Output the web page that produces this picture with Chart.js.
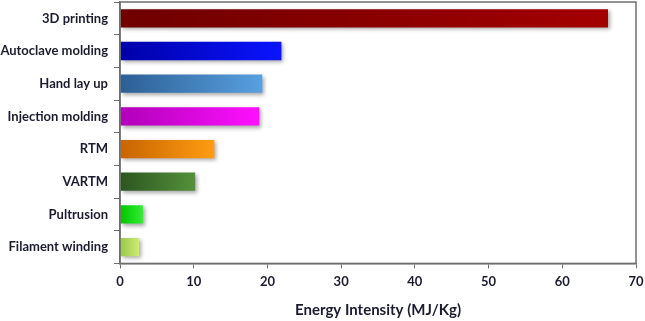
<!DOCTYPE html>
<html>
<head>
<meta charset="utf-8">
<style>
  html, body { margin: 0; padding: 0; background: #fff; }
  #wrap { width: 645px; height: 321px; }
</style>
</head>
<body>
<div id="wrap"><canvas id="chart"></canvas></div>
<script src="https://cdn.jsdelivr.net/npm/chart.js"></script>
<script>
const processes = ['3D printing', 'Autoclave molding', 'Hand lay up', 'Injection molding', 'RTM', 'VARTM', 'Pultrusion', 'Filament winding'];
const energy = [66.2, 21.9, 19.3, 18.9, 12.8, 10.2, 3.1, 2.6];
const xTicks = [0, 10, 20, 30, 40, 50, 60, 70];
const darkShades = ['#6e0000', '#0000a8', '#2c5f94', '#b000b8', '#c76400', '#2c5520', '#00c400', '#98c848'];
const lightShades = ['#a40000', '#0a14ff', '#58a0e0', '#ff10ff', '#ff9c12', '#54913a', '#30f030', '#cdeb78'];

const fontFam = 'Lato, "Open Sans", sans-serif';

const barFill = ctx => {
  const chart = ctx.chart;
  const { chartArea } = chart;
  if (!chartArea) return darkShades[ctx.dataIndex];
  const xs = chart.scales.x;
  const x0 = xs.getPixelForValue(0);
  const x1 = xs.getPixelForValue(energy[ctx.dataIndex]);
  const g = chart.ctx.createLinearGradient(x0, 0, x1, 0);
  g.addColorStop(0, darkShades[ctx.dataIndex]);
  g.addColorStop(1, lightShades[ctx.dataIndex]);
  return g;
};

const shadowPlugin = {
  id: 'barShadow',
  beforeDatasetDraw(chart) {
    const c = chart.ctx;
    c.save();
    c.shadowColor = 'rgba(0,0,0,0.35)';
    c.shadowBlur = 4;
    c.shadowOffsetX = 2;
    c.shadowOffsetY = 2;
  },
  afterDatasetDraw(chart) {
    chart.ctx.restore();
  }
};

const frame = {
  id: 'frame',
  afterDraw(chart) {
    const { left, top, right, bottom } = chart.chartArea;
    const c = chart.ctx;
    c.save();
    c.strokeStyle = '#6f6f6f';
    c.lineWidth = 1.5;
    c.strokeRect(left, top, right - left, bottom - top);
    c.restore();
  }
};

new Chart(document.getElementById('chart'), {
  type: 'bar',
  data: {
    labels: processes,
    datasets: [{
      data: energy,
      backgroundColor: barFill,
      borderWidth: 0,
      barPercentage: 0.56,
      categoryPercentage: 1
    }]
  },
  options: {
    indexAxis: 'y',
    responsive: true,
    maintainAspectRatio: false,
    animation: false,
    layout: { padding: { top: 2, right: 0, left: 0, bottom: 2 } },
    plugins: { legend: { display: false }, tooltip: { enabled: false } },
    scales: {
      x: {
        min: 0, max: 70,
        afterBuildTicks: axis => { axis.ticks = xTicks.map(v => ({ value: v })); },
        afterFit: axis => { axis.paddingRight = 9; axis.paddingLeft = 0; },
        grid: { drawOnChartArea: false, drawTicks: true, tickLength: 5, color: '#6f6f6f' },
        border: { display: true, color: '#6f6f6f', width: 1.5 },
        ticks: { color: '#1c1c30', padding: 6, font: { family: fontFam, size: 13, weight: 'bold' } },
        title: { display: true, text: 'Energy Intensity (MJ/Kg)', color: '#1c1c30', padding: { top: 5, bottom: 0 }, font: { family: fontFam, size: 15, weight: 'bold' } }
      },
      y: {
        afterFit: axis => { axis.width = 120; axis.paddingTop = 0; axis.paddingBottom = 0; },
        grid: { drawOnChartArea: false, drawTicks: true, tickLength: 6, color: '#6f6f6f', offset: true },
        border: { display: true, color: '#6f6f6f', width: 1.5 },
        ticks: { color: '#1c1c30', padding: 6, font: { family: fontFam, size: 13, weight: 'bold' } }
      }
    }
  },
  plugins: [shadowPlugin, frame]
});
</script>
</body>
</html>
